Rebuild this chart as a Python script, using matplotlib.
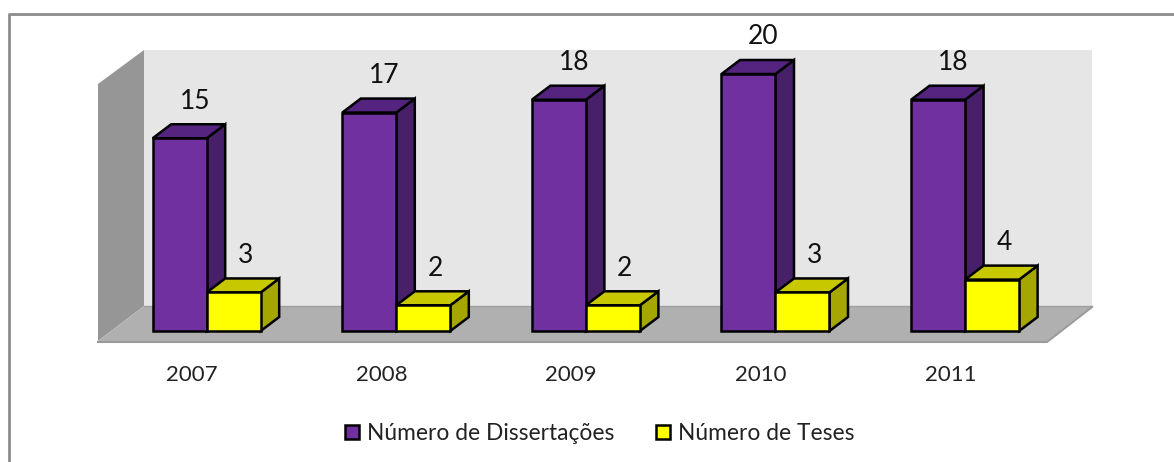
import numpy as np
import matplotlib
matplotlib.use("Agg")
import matplotlib.pyplot as plt
from matplotlib.patches import Polygon
from matplotlib.lines import Line2D
from matplotlib.transforms import offset_copy

plt.rcParams["font.family"] = ["Lato", "DejaVu Sans"]

years = ["2007", "2008", "2009", "2010", "2011"]
dissertacoes = [15, 17, 18, 20, 18]
teses = [3, 2, 2, 3, 4]

W, H = 1174, 462
step = 189.6     # pixels per category
unit = 12.85     # pixels per value
x0_px, y0_px = 206.7, 331

bar_w = 54 / step
dx = 18.5 / step
dy = 14 / unit

fig = plt.figure(figsize=(W / 100, H / 100), dpi=100)
ax = fig.add_axes((0, 0, 1, 1))
ax.set_xlim(-x0_px / step, (W - x0_px) / step)
ax.set_ylim((y0_px - H) / unit, y0_px / unit)
ax.axis("off")


def px(x, y):
    return (x - x0_px) / step, (y0_px - y) / unit


def poly(pts, color, z=1):
    ax.add_patch(Polygon([px(*p) for p in pts], closed=True, facecolor=color,
                         edgecolor="none", zorder=z))


# frame, right and bottom sides are cut off by the picture
ax.plot(*zip(px(9.5, H), px(9.5, 14.5), px(W, 14.5)), color="#8c8c8c", lw=2.0, zorder=0)

# walls and floor
poly([(144, 50), (1092, 50), (1092, 306), (144, 306)], "#e6e6e6")
poly([(98, 84), (144, 50), (144, 306), (98, 341)], "#969696")
poly([(98, 341), (144, 306), (1092, 306), (1047, 341)], "#b0b0b0")
ax.plot(*zip(px(98, 342), px(1047, 342), px(1092, 307)), color="#9a9a9a", lw=1.5, zorder=1)
ax.plot(*zip(px(144, 306), px(1092, 306)), color="#a0a0a0", lw=1, zorder=1)


def bar3d(x, val, front, top, side, z):
    l, r = x, x + bar_w
    ax.add_patch(Polygon([(r, 0), (r + dx, dy), (r + dx, val + dy), (r, val)], closed=True,
                         facecolor=side, edgecolor="black", linewidth=1.8, zorder=z))
    ax.add_patch(Polygon([(l, val), (l + dx, val + dy), (r + dx, val + dy), (r, val)], closed=True,
                         facecolor=top, edgecolor="black", linewidth=1.8, zorder=z))
    ax.add_patch(Polygon([(l, 0), (r, 0), (r, val), (l, val)], closed=True,
                         facecolor=front, edgecolor="black", linewidth=1.8, zorder=z))


for i, year in enumerate(years):
    bar3d(i - bar_w, dissertacoes[i], "#7030a0", "#552380", "#48206a", 3 + i * 2)
    bar3d(i, teses[i], "#ffff00", "#c8c800", "#a6a600", 4 + i * 2)

    lab1 = offset_copy(ax.transData, fig=fig, x=-12 * 0.72, y=37 * 0.72, units="points")
    lab2 = offset_copy(ax.transData, fig=fig, x=39 * 0.72, y=37 * 0.72, units="points")
    ax.text(i, dissertacoes[i], str(dissertacoes[i]), transform=lab1, ha="center", va="center",
            fontsize=19, color="#111111", zorder=30)
    ax.text(i, teses[i], str(teses[i]), transform=lab2, ha="center", va="center",
            fontsize=19, color="#111111", zorder=30)
    ax.text(*px(192 + i * step, 375), year, ha="center", va="center", fontsize=16,
            color="#222222", zorder=30)

# legend
handles = [
    Line2D([], [], marker="s", ls="none", ms=10, mfc="#7030a0", mec="black", mew=1.8),
    Line2D([], [], marker="s", ls="none", ms=10, mfc="#ffff00", mec="black", mew=1.8),
]
fig.legend(handles, ["Número de Dissertações", "Número de Teses"], loc="center",
           bbox_to_anchor=(592 / W, 1 - 433 / H), ncol=2, frameon=False, fontsize=16.4,
           handletextpad=-0.35, columnspacing=1.15, labelcolor="#222222")

fig.savefig("out.png", dpi=100)
